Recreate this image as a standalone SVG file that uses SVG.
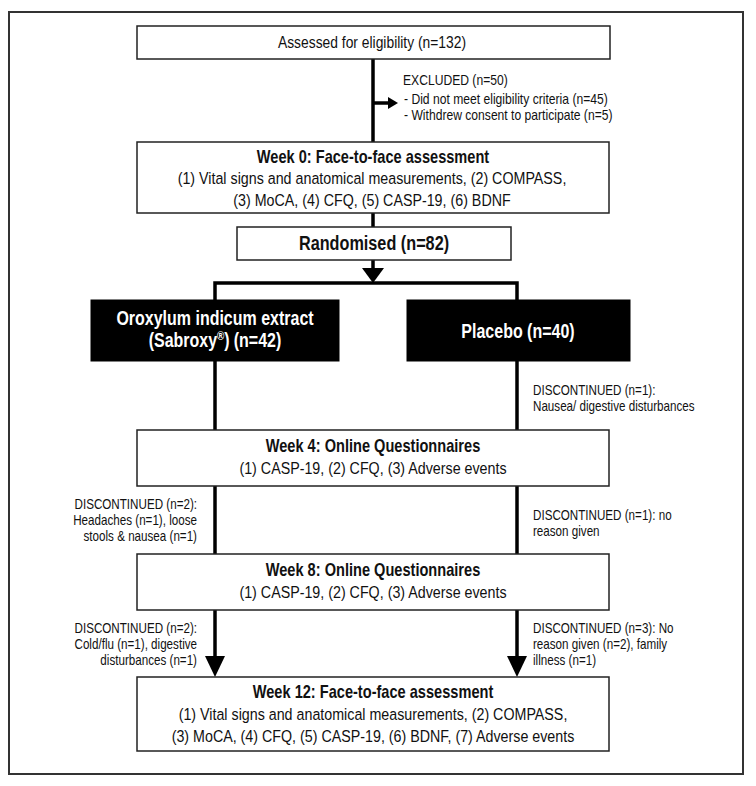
<svg xmlns="http://www.w3.org/2000/svg" width="756" height="786" viewBox="0 0 756 786">
<style>
text{font-family:"Liberation Sans",Arial,sans-serif;fill:#111}
.box{fill:#fff;stroke:#222;stroke-width:1.5}
.blk{fill:#000;stroke:#000;stroke-width:1}
.conn{stroke:#000;stroke-width:3.5;fill:none}
.t{font-size:17.4px}
.a{font-size:16.9px}
.b{font-size:17.8px;font-weight:bold}
.r{font-size:19.8px;font-weight:bold}
.w{font-size:19.5px;font-weight:bold;fill:#fff}
.s{font-size:14.2px}
.x{font-size:14.8px}
.c{text-anchor:middle}
.e{text-anchor:end}
</style>
<defs>
<marker id="arrS" markerUnits="userSpaceOnUse" viewBox="0 0 10 12" markerWidth="10" markerHeight="12" refX="0" refY="6" orient="auto"><path d="M0,0 L10,6 L0,12 z" fill="#000"/></marker>
<marker id="arrM" markerUnits="userSpaceOnUse" viewBox="0 0 15 22" markerWidth="15" markerHeight="22" refX="0" refY="11" orient="auto"><path d="M0,0 L15,11 L0,22 z" fill="#000"/></marker>
<marker id="arrL" markerUnits="userSpaceOnUse" viewBox="0 0 21 20" markerWidth="21" markerHeight="20" refX="0" refY="10" orient="auto"><path d="M0,0 L21,10 L0,20 z" fill="#000"/></marker>
</defs>
<rect x="0" y="0" width="756" height="786" fill="#fff"/>
<rect id="frame" x="9" y="12" width="734" height="762" fill="none" stroke="#333" stroke-width="2"/>
<g id="connectors">
<path class="conn" d="M373,59 V142"/>
<path class="conn" d="M373,103 H388" marker-end="url(#arrS)"/>
<path class="conn" d="M373,213 V227"/>
<path class="conn" d="M373,260 V268" marker-end="url(#arrM)"/>
<path class="conn" d="M215,300 V283 H517 V300"/>
<path class="conn" d="M215,361 V430"/>
<path class="conn" d="M517,361 V430"/>
<path class="conn" d="M215,486 V554"/>
<path class="conn" d="M517,486 V554"/>
<path class="conn" d="M215,610 V656" marker-end="url(#arrL)"/>
<path class="conn" d="M517,610 V656" marker-end="url(#arrL)"/>
</g>
<g id="assessed">
<rect class="box" x="137" y="26" width="473" height="33"/>
<text class="a c" transform="translate(372,48) scale(.82,1)">Assessed for eligibility (n=132)</text>
</g>
<g id="excluded">
<text class="x" transform="translate(403,85) scale(.82,1)">EXCLUDED (n=50)</text>
<text class="x" transform="translate(404,104) scale(.82,1)">- Did not meet eligibility criteria (n=45)</text>
<text class="x" transform="translate(404,120) scale(.82,1)">- Withdrew consent to participate (n=5)</text>
</g>
<g id="week0">
<rect class="box" x="137" y="142" width="472" height="71"/>
<text class="b c" transform="translate(373,163) scale(.82,1)">Week 0: Face-to-face assessment</text>
<text class="t c" transform="translate(372,184) scale(.82,1)">(1) Vital signs and anatomical measurements, (2) COMPASS,</text>
<text class="t c" transform="translate(372,206) scale(.82,1)">(3) MoCA, (4) CFQ, (5) CASP-19, (6) BDNF</text>
</g>
<g id="randomised">
<rect class="box" x="237" y="227" width="274" height="33"/>
<text class="r c" transform="translate(374,250) scale(.82,1)">Randomised (n=82)</text>
</g>
<g id="oroxylum">
<rect class="blk" x="91" y="300" width="248" height="61"/>
<text class="w c" transform="translate(215,325) scale(.82,1)">Oroxylum indicum extract</text>
<text class="w c" transform="translate(215,347) scale(.82,1)">(Sabroxy<tspan font-size="12" dy="-7">®</tspan><tspan dy="7">)</tspan><tspan dx="5">(n=42)</tspan></text>
</g>
<g id="placebo">
<rect class="blk" x="407" y="300" width="223" height="61"/>
<text class="w c" transform="translate(518,338) scale(.82,1)">Placebo (n=40)</text>
</g>
<g id="disc-placebo-1">
<text class="s" transform="translate(533,395) scale(.82,1)">DISCONTINUED (n=1):</text>
<text class="s" transform="translate(533,411) scale(.82,1)">Nausea/ digestive disturbances</text>
</g>
<g id="week4">
<rect class="box" x="137" y="430" width="472" height="56"/>
<text class="b c" transform="translate(373,452) scale(.82,1)">Week 4: Online Questionnaires</text>
<text class="t c" transform="translate(373,474) scale(.82,1)">(1) CASP-19, (2) CFQ, (3) Adverse events</text>
</g>
<g id="disc-oro-1">
<text class="s e" transform="translate(197,509) scale(.82,1)">DISCONTINUED (n=2):</text>
<text class="s e" transform="translate(197,525) scale(.82,1)">Headaches (n=1), loose</text>
<text class="s e" transform="translate(197,541) scale(.82,1)">stools &amp; nausea (n=1)</text>
</g>
<g id="disc-placebo-2">
<text class="s" transform="translate(533,520) scale(.82,1)">DISCONTINUED (n=1): no</text>
<text class="s" transform="translate(533,536) scale(.82,1)">reason given</text>
</g>
<g id="week8">
<rect class="box" x="137" y="554" width="472" height="56"/>
<text class="b c" transform="translate(373,576) scale(.82,1)">Week 8: Online Questionnaires</text>
<text class="t c" transform="translate(373,598) scale(.82,1)">(1) CASP-19, (2) CFQ, (3) Adverse events</text>
</g>
<g id="disc-oro-2">
<text class="s e" transform="translate(197,633) scale(.82,1)">DISCONTINUED (n=2):</text>
<text class="s e" transform="translate(197,649) scale(.82,1)">Cold/flu (n=1), digestive</text>
<text class="s e" transform="translate(197,665) scale(.82,1)">disturbances (n=1)</text>
</g>
<g id="disc-placebo-3">
<text class="s" transform="translate(533,633) scale(.82,1)">DISCONTINUED (n=3): No</text>
<text class="s" transform="translate(533,649) scale(.82,1)">reason given (n=2), family</text>
<text class="s" transform="translate(533,665) scale(.82,1)">illness (n=1)</text>
</g>
<g id="week12">
<rect class="box" x="137" y="677" width="472" height="74"/>
<text class="b c" transform="translate(373,698) scale(.82,1)">Week 12: Face-to-face assessment</text>
<text class="t c" transform="translate(373,720) scale(.82,1)">(1) Vital signs and anatomical measurements, (2) COMPASS,</text>
<text class="t c" transform="translate(373,742) scale(.82,1)">(3) MoCA, (4) CFQ, (5) CASP-19, (6) BDNF, (7) Adverse events</text>
</g>
</svg>
